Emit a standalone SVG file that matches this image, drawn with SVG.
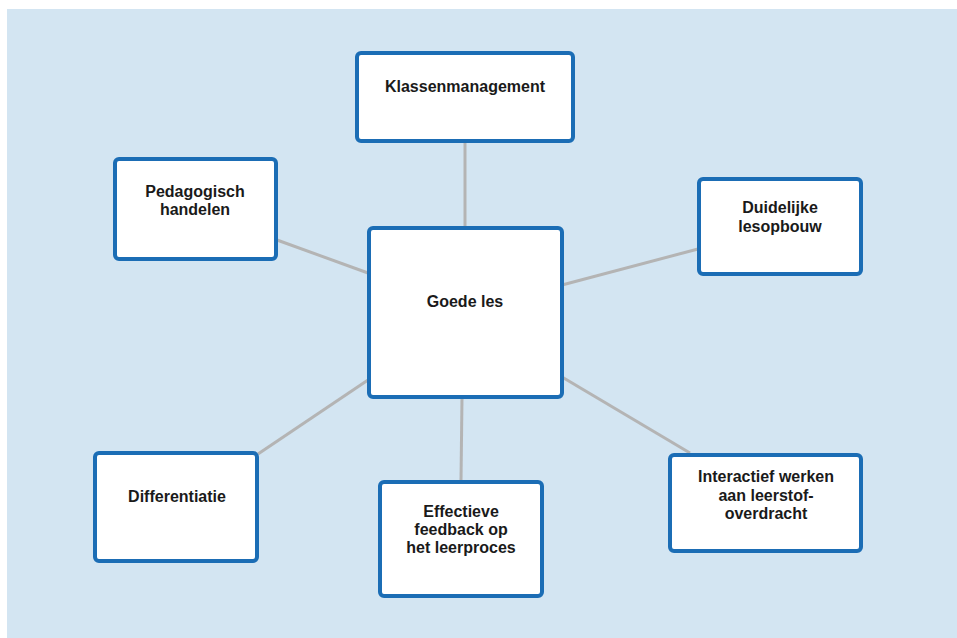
<svg xmlns="http://www.w3.org/2000/svg" width="957" height="638" viewBox="0 0 957 638">
<style>
.node rect{fill:#ffffff;stroke:#1b6db5;stroke-width:4}
.node text{font-family:"Liberation Sans",Arial,sans-serif;font-weight:bold;font-size:16px;fill:#1a1a1a;text-anchor:middle}
.conn line{stroke:#b4b4b4;stroke-width:3}
</style>
<rect x="0" y="0" width="957" height="638" fill="#ffffff"/>
<rect x="7" y="9" width="950" height="629" fill="#d3e5f2"/>
<g id="connectors" class="conn">
<line x1="465" y1="142" x2="465" y2="226"/>
<line x1="277" y1="240" x2="368" y2="273"/>
<line x1="562" y1="285" x2="698" y2="249"/>
<line x1="258" y1="454" x2="368" y2="380"/>
<line x1="462" y1="398" x2="461" y2="480"/>
<line x1="562" y1="377" x2="690" y2="453"/>
</g>
<g id="klassenmanagement" class="node">
<rect x="357" y="53" width="216" height="88" rx="4"/>
<text x="465" y="92">Klassenmanagement</text>
</g>
<g id="pedagogisch" class="node">
<rect x="115" y="159" width="161" height="100" rx="4"/>
<text x="195" y="197">Pedagogisch</text>
<text x="195" y="215">handelen</text>
</g>
<g id="goede-les" class="node">
<rect x="369" y="228" width="193" height="169" rx="4"/>
<text x="465" y="307">Goede les</text>
</g>
<g id="duidelijke" class="node">
<rect x="699" y="179" width="162" height="95" rx="4"/>
<text x="780" y="213">Duidelijke</text>
<text x="780" y="232">lesopbouw</text>
</g>
<g id="interactief" class="node">
<rect x="670" y="455" width="191" height="96" rx="4"/>
<text x="766" y="482">Interactief werken</text>
<text x="766" y="501">aan leerstof-</text>
<text x="766" y="519">overdracht</text>
</g>
<g id="differentiatie" class="node">
<rect x="95" y="453" width="162" height="108" rx="4"/>
<text x="177" y="502">Differentiatie</text>
</g>
<g id="effectieve" class="node">
<rect x="380" y="482" width="162" height="114" rx="4"/>
<text x="461" y="517">Effectieve</text>
<text x="461" y="535">feedback op</text>
<text x="461" y="553">het leerproces</text>
</g>
</svg>
